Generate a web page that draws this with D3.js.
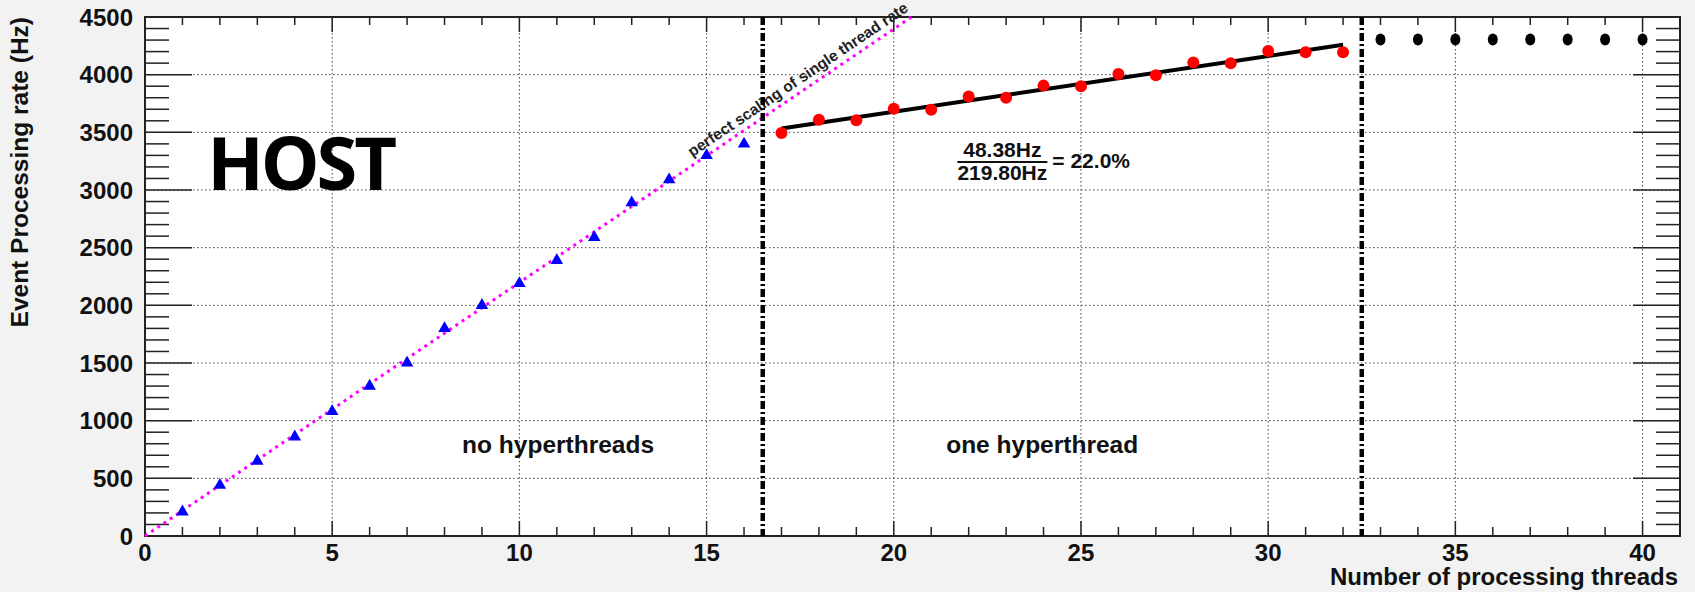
<!DOCTYPE html>
<html>
<head>
<meta charset="UTF-8">
<title>HOST event processing rate</title>
<style>
  body { margin: 0; background: #f2f2f2; }
  svg { display: block; font-family: "Liberation Sans", Arial, sans-serif; font-weight: bold; }
</style>
</head>
<body>
<div id="chart"></div>
<script src="https://cdnjs.cloudflare.com/ajax/libs/d3/7.8.5/d3.min.js"></script>
<script>
// threads 1..16, no hyperthreads (blue triangles)
const noHtThreads = d3.range(1, 17);
const noHtRate = [210, 440, 650, 860, 1080, 1300, 1500, 1800, 2000, 2190, 2390, 2590, 2890, 3090, 3300, 3400];
// threads 17..32, one hyperthread (red circles)
const oneHtThreads = d3.range(17, 33);
const oneHtRate = [3495, 3610, 3605, 3705, 3695, 3810, 3800, 3905, 3900, 4005, 3995, 4105, 4100, 4205, 4195, 4195];
// threads 33..40 (black points)
const moreThreads = d3.range(33, 41);
const moreRate = [4305, 4305, 4305, 4305, 4305, 4305, 4305, 4305];

const singleRate = 219.80;   // perfect scaling slope
const fitSlope = 48.38;      // fit slope
const fitAt17 = 3533;        // fit value at 17 threads
const dividers = [16.5, 32.5];
const xTicks = [0, 5, 10, 15, 20, 25, 30, 35, 40];
const yTicks = [0, 500, 1000, 1500, 2000, 2500, 3000, 3500, 4000, 4500];

const W = 1695, H = 592;
const fL = 145, fT = 17, fR = 1680, fB = 536;

const svg = d3.select("#chart").append("svg").attr("width", W).attr("height", H);
svg.append("rect").attr("width", W).attr("height", H).attr("fill", "#f2f2f2");

const x = d3.scaleLinear().domain([0, 41]).range([fL, fR]);
const y = d3.scaleLinear().domain([0, 4500]).range([fB, fT]);

svg.append("rect").attr("x", fL).attr("y", fT)
  .attr("width", fR - fL).attr("height", fB - fT).attr("fill", "#fff");

// grid
const grid = svg.append("g").attr("stroke", "#444").attr("stroke-width", 1).attr("stroke-dasharray", "1.5,2.5");
grid.selectAll(".gx").data(xTicks.filter(d => d > 0)).join("line")
  .attr("x1", d => x(d)).attr("x2", d => x(d)).attr("y1", fT).attr("y2", fB);
grid.selectAll(".gy").data(yTicks.filter(d => d > 0 && d < 4500)).join("line")
  .attr("x1", fL).attr("x2", fR).attr("y1", d => y(d)).attr("y2", d => y(d));

// ticks (ROOT style, inside the frame, both sides)
const ticks = svg.append("g").attr("stroke", "#222").attr("stroke-width", 1.5);
const xMinor = d3.range(0, 42, 1);
ticks.selectAll(".xb").data(xMinor).join("line")
  .attr("x1", d => x(d)).attr("x2", d => x(d))
  .attr("y1", fB).attr("y2", d => fB - (d % 5 === 0 ? 15 : 9));
ticks.selectAll(".xt").data(xMinor).join("line")
  .attr("x1", d => x(d)).attr("x2", d => x(d))
  .attr("y1", fT).attr("y2", d => fT + (d % 5 === 0 ? 15 : 8));
const yMinor = d3.range(0, 4501, 100);
ticks.selectAll(".yl").data(yMinor).join("line")
  .attr("y1", d => y(d)).attr("y2", d => y(d))
  .attr("x1", fL).attr("x2", d => fL + (d % 500 === 0 ? 47 : 24));
ticks.selectAll(".yr").data(yMinor).join("line")
  .attr("y1", d => y(d)).attr("y2", d => y(d))
  .attr("x1", fR).attr("x2", d => fR - (d % 500 === 0 ? 47 : 24));

svg.append("rect").attr("x", fL).attr("y", fT)
  .attr("width", fR - fL).attr("height", fB - fT)
  .attr("fill", "none").attr("stroke", "#222").attr("stroke-width", 2);

// tick labels
svg.append("g").selectAll("text").data(xTicks).join("text")
  .attr("x", d => x(d)).attr("y", 561).attr("text-anchor", "middle")
  .attr("font-size", 24).attr("fill", "#111").text(d => d);
svg.append("g").selectAll("text").data(yTicks).join("text")
  .attr("x", 133).attr("y", d => y(d) + 8.5).attr("text-anchor", "end")
  .attr("font-size", 24).attr("fill", "#111").text(d => d);

// axis titles
svg.append("text").attr("x", fR - 2).attr("y", 585).attr("text-anchor", "end")
  .attr("font-size", 24).attr("fill", "#111").text("Number of processing threads");
svg.append("text").attr("transform", "translate(28,17) rotate(-90)")
  .attr("text-anchor", "end").attr("font-size", 24.5).attr("fill", "#111")
  .text("Event Processing rate (Hz)");

// perfect scaling line
const xEnd = 4500 / singleRate;
svg.append("line")
  .attr("x1", x(0)).attr("y1", y(0)).attr("x2", x(xEnd)).attr("y2", y(4500))
  .attr("stroke", "#ff00ff").attr("stroke-width", 3).attr("stroke-dasharray", "3,4.5");

const ang = Math.atan2(y(0) - y(4500), x(xEnd) - x(0)) * 180 / Math.PI;
const tx = 14.7;
svg.append("text")
  .attr("transform", `translate(${x(tx) - 3},${y(tx * singleRate) - 6}) rotate(${-ang})`)
  .attr("font-size", 15.5).attr("fill", "#222")
  .text("perfect scaling of single thread rate");

// dividers
svg.append("g").selectAll("line").data(dividers).join("line")
  .attr("x1", d => x(d)).attr("x2", d => x(d)).attr("y1", fT).attr("y2", fB)
  .attr("stroke", "#000").attr("stroke-width", 4.5).attr("stroke-dasharray", "8,3,2,3");

// fit line
svg.append("line")
  .attr("x1", x(17)).attr("y1", y(fitAt17))
  .attr("x2", x(32)).attr("y2", y(fitAt17 + fitSlope * 15))
  .attr("stroke", "#000").attr("stroke-width", 4);

// markers
const tri = d3.symbol().type(d3.symbolTriangle).size(68);
svg.append("g").selectAll("path").data(noHtThreads).join("path")
  .attr("transform", (d, i) => `translate(${x(d)},${y(noHtRate[i])})`)
  .attr("d", tri).attr("fill", "#0000ff");
svg.append("g").selectAll("circle").data(oneHtThreads).join("circle")
  .attr("cx", d => x(d)).attr("cy", (d, i) => y(oneHtRate[i])).attr("r", 6)
  .attr("fill", "#ff0000");
svg.append("g").selectAll("ellipse").data(moreThreads).join("ellipse")
  .attr("cx", d => x(d)).attr("cy", (d, i) => y(moreRate[i])).attr("rx", 5).attr("ry", 6)
  .attr("fill", "#000");

// annotations
svg.append("text").attr("x", x(1.66)).attr("y", y(3000))
  .attr("font-family", "'Open Sans', sans-serif").attr("font-weight", 700)
  .attr("font-size", 74).attr("textLength", 190).attr("fill", "#000").text("HOST");

svg.append("text").attr("x", x(8.47)).attr("y", 453)
  .attr("font-size", 24.5).attr("fill", "#111").text("no hyperthreads");
svg.append("text").attr("x", x(21.4)).attr("y", 453)
  .attr("font-size", 24.5).attr("fill", "#111").text("one hyperthread");

const fx = x(22.9);
const frac = svg.append("g").attr("fill", "#111").attr("font-size", 21);
frac.append("text").attr("x", fx).attr("y", 157).attr("text-anchor", "middle").text(`${fitSlope.toFixed(2)}Hz`);
frac.append("text").attr("x", fx).attr("y", 180).attr("text-anchor", "middle").text(`${singleRate.toFixed(2)}Hz`);
frac.append("line").attr("x1", fx - 45).attr("x2", fx + 45).attr("y1", 162).attr("y2", 162)
  .attr("stroke", "#111").attr("stroke-width", 2);
frac.append("text").attr("x", fx + 50).attr("y", 168)
  .text(`= ${(fitSlope / singleRate * 100).toFixed(1)}%`);
</script>
</body>
</html>
